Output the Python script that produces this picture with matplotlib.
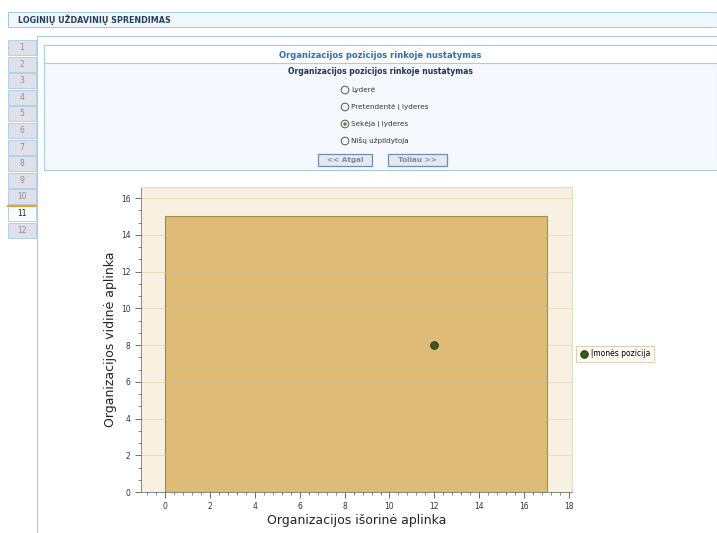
import matplotlib
matplotlib.use('Agg')
import matplotlib.pyplot as plt
from matplotlib.patches import Rectangle, Circle
from matplotlib.ticker import MultipleLocator, AutoMinorLocator

# chart data
area_x = [0, 17]          # organizacijos isorine aplinka (from, to)
area_y = [0, 15]          # organizacijos vidine aplinka (from, to)
pos_x = [12]
pos_y = [8]
pos_label = 'Įmonės pozicija'
x_label = 'Organizacijos išorinė aplinka'
y_label = 'Organizacijos vidinė aplinka'

# page text
page_title = 'LOGINIŲ UŽDAVINIŲ SPRENDIMAS'
panel_title = 'Organizacijos pozicijos rinkoje nustatymas'
options = ['Lyderė', 'Pretendentė į lyderes', 'Sekėja į lyderes', 'Nišų užpildytoja']
selected = 2
tabs = [str(i) for i in range(1, 13)]
active_tab = 10
buttons = ['<< Atgal', 'Toliau >>']

W, H = 717, 533
fig = plt.figure(figsize=(W / 100, H / 100), dpi=100)

# page background in pixel coordinates
ui = fig.add_axes([0, 0, 1, 1])
ui.set_xlim(0, W)
ui.set_ylim(H, 0)
ui.axis('off')
blue_line = '#a9cbe3'

ui.add_patch(Rectangle((8, 12), 709, 15, fc='#f2f7fb', ec=blue_line, lw=0.8))
ui.text(18, 19.5, page_title, fontsize=5.8, weight='bold', color='#27405e', va='center')

ui.plot([37, W], [36, 36], color=blue_line, lw=0.8)
ui.plot([37, 37], [36, H], color=blue_line, lw=0.8)

for i, t in enumerate(tabs):
    y0 = 40 + i * 16.6
    if i == active_tab:
        ui.add_patch(Rectangle((8, y0), 28, 15, fc='#f7fbfe', ec=blue_line, lw=0.6))
        ui.plot([8, 36], [y0, y0], color='#f0a030', lw=1.5)
        ui.text(22, y0 + 7.5, t, fontsize=5.5, color='#222222', ha='center', va='center')
    else:
        ui.add_patch(Rectangle((8, y0), 28, 15, fc='#dfe0ea', ec=blue_line, lw=0.6))
        ui.text(22, y0 + 7.5, t, fontsize=5.5, color='#8c8c99', ha='center', va='center')

ui.add_patch(Rectangle((44, 45), 673, 125, fc='#f5f9fd', ec=blue_line, lw=0.8))
ui.add_patch(Rectangle((44, 45), 673, 18, fc='white', ec=blue_line, lw=0.8))
ui.text(380, 55, panel_title, fontsize=6, weight='bold', color='#2f6fb3', ha='center', va='center')
ui.text(380, 72, panel_title, fontsize=5.5, weight='bold', color='#22344f', ha='center', va='center')

for i, o in enumerate(options):
    yy = 90 + i * 17
    ui.add_patch(Circle((345, yy), 3.8, fc='white', ec='#555555', lw=0.7))
    if i == selected:
        ui.add_patch(Circle((345, yy), 1.8, fc='#3a9a3a', ec='none'))
    ui.text(351, yy, o, fontsize=5.2, color='#333333', va='center')

for (x0, x1), b in zip([(318, 372), (388, 447)], buttons):
    ui.add_patch(Rectangle((x0, 154), x1 - x0, 12, fc='#e6e8f0', ec='#6f8db0', lw=0.9))
    ui.text((x0 + x1) / 2, 160, b, fontsize=5.2, weight='bold', color='#7a8a9c', ha='center', va='center')

# chart
ax = fig.add_axes([141 / W, 1 - 492 / H, 431 / W, 305 / H])
ax.set_facecolor('#f8f0e1')
ax.bar(area_x[0], area_y[1] - area_y[0], width=area_x[1] - area_x[0], bottom=area_y[0],
       align='edge', color='#dfbb78', edgecolor='#a38b50', linewidth=0.8, zorder=2)
ax.scatter(pos_x, pos_y, s=30, color='#3b5a1c', edgecolors='#1c2a0c', linewidths=0.6,
           zorder=4, label=pos_label)

ax.set_xlim(-1.07, 18.13)
ax.set_ylim(0, 16.6)
ax.xaxis.set_major_locator(MultipleLocator(2))
ax.yaxis.set_major_locator(MultipleLocator(2))
ax.xaxis.set_minor_locator(AutoMinorLocator(5))
ax.yaxis.set_minor_locator(AutoMinorLocator(3))
ax.grid(axis='y', which='major', color='#d3c09a', lw=0.6, alpha=0.5, zorder=3)
ax.set_axisbelow(False)
ax.tick_params(which='both', direction='out', labelsize=5.5, colors='#555555', labelcolor='#333333')
ax.tick_params(which='major', length=4, width=0.6)
ax.tick_params(which='minor', length=2, width=0.5)
for s in ['top', 'right']:
    ax.spines[s].set_color('#e6dcc6')
    ax.spines[s].set_linewidth(0.8)
for s in ['left', 'bottom']:
    ax.spines[s].set_color('#888888')
    ax.spines[s].set_linewidth(0.7)
ax.set_xlabel(x_label, fontsize=9, color='#222222', labelpad=2)
ax.set_ylabel(y_label, fontsize=9, color='#222222', labelpad=3)

leg = ax.legend(loc='center', bbox_to_anchor=(615 / W, 1 - 354 / H), bbox_transform=fig.transFigure,
                fontsize=5.5, frameon=True, fancybox=False, handletextpad=0.4, borderpad=0.5,
                handlelength=1.0)
leg.get_frame().set_edgecolor('#d8c49c')
leg.get_frame().set_facecolor('#fdfaf4')
leg.get_frame().set_linewidth(0.7)

fig.savefig('out.png', dpi=100)
